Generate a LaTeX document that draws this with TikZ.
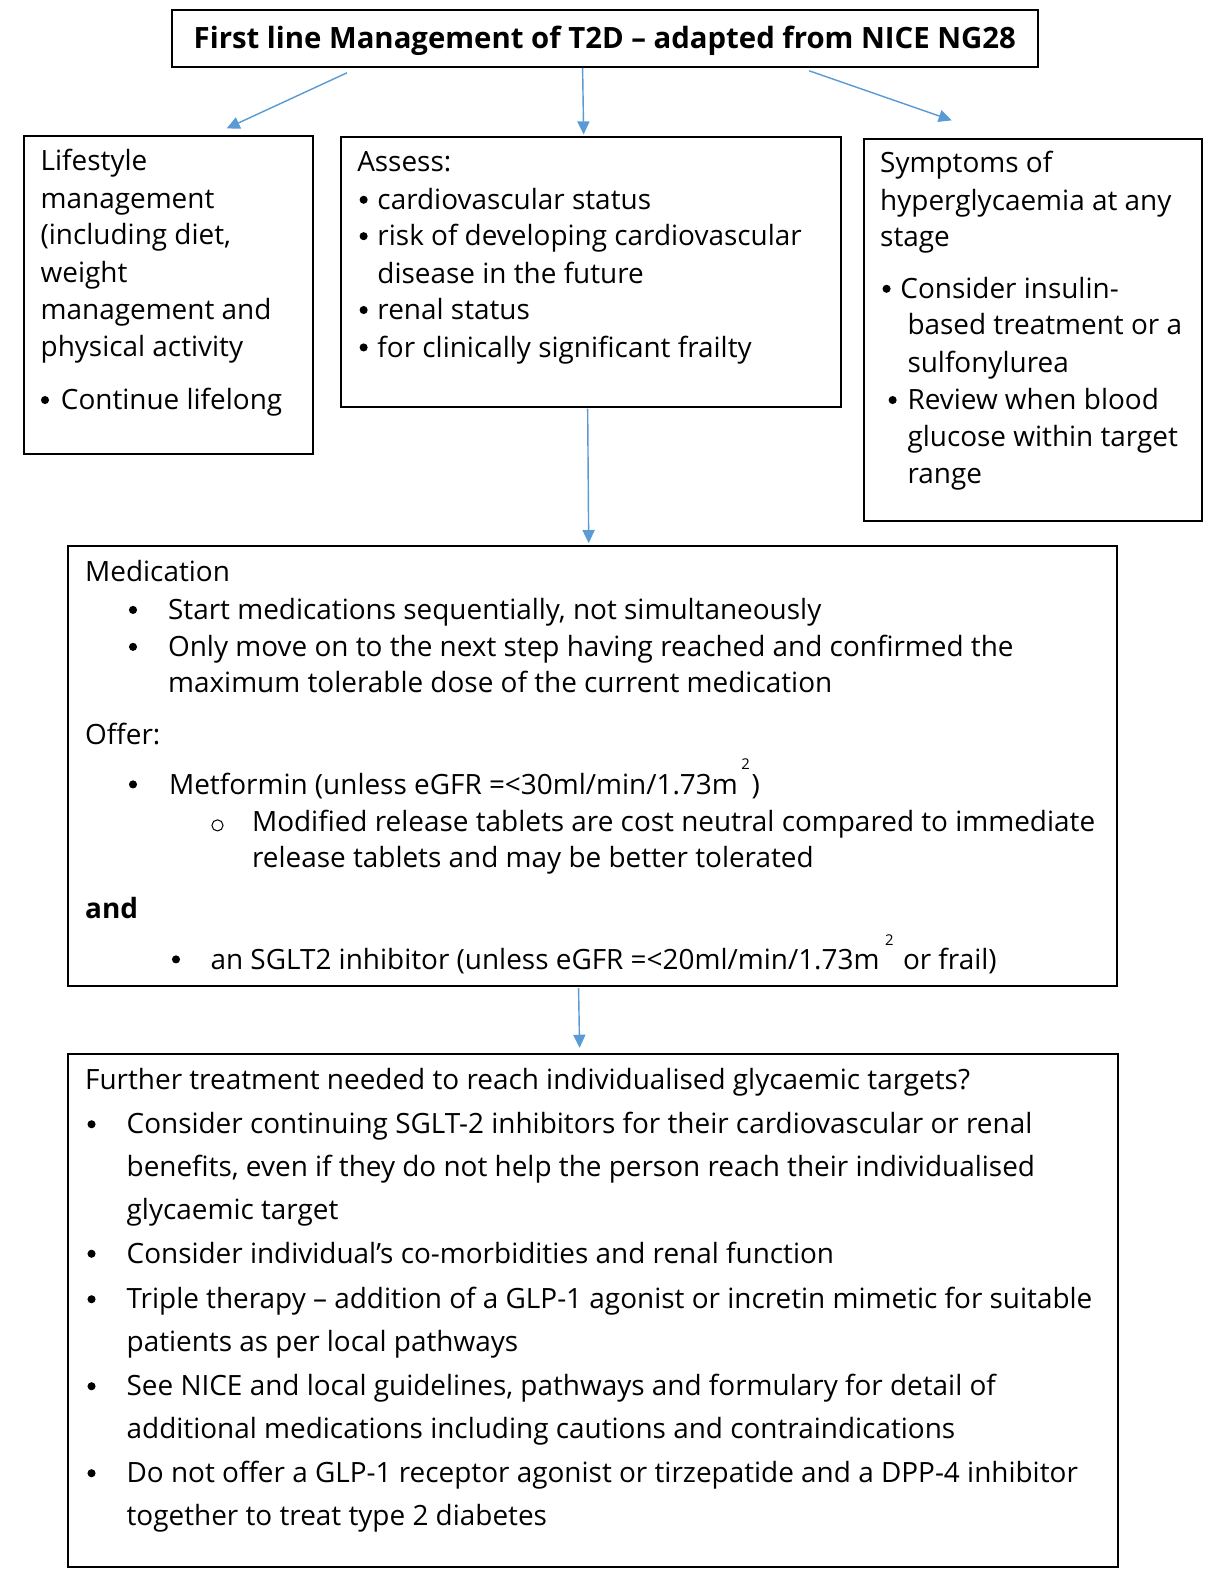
\documentclass[tikz,border=0pt]{standalone}
\usepackage{fontspec}
\setmainfont{Open Sans}
\usetikzlibrary{arrows.meta}
\definecolor{arrowblue}{HTML}{5B9BD5}
\newcommand\myBody{\fontsize{27.6}{32}\selectfont}
\newcommand\myTitle{\fontsize{29}{34}\selectfont\bfseries}
\newcommand\myline[4]{\node[txt] (#1) at (#2,#3) {#4};}
\newcommand\mybul[3]{\node[dot] (#1) at (#2,#3-9.5) {};}
\begin{document}
\begin{tikzpicture}[x=1pt,y=-1pt,
  txt/.style={anchor=base west, inner sep=0pt, font=\myBody},
  dot/.style={circle, fill=black, inner sep=0pt, minimum size=8pt},
  ring/.style={circle, draw=black, line width=1pt, inner sep=0pt, minimum width=11pt, minimum height=10pt, ellipse/.try},
  boxnode/.style={draw=black, line width=2pt, anchor=north west, inner sep=0pt},
  arr/.style={draw=arrowblue, line width=1.4pt, -{Triangle[length=13pt,width=12pt]}},
  supnode/.style={anchor=base west, inner sep=0pt, font=\fontsize{14.7}{18}\selectfont}]
\useasboundingbox[fill=white] (0,0) rectangle (1204,1568);

% title
\node[draw=black, line width=2pt, minimum width=856pt, minimum height=56pt, inner sep=0pt] (title) at (598,38) {};
\node[anchor=base, inner sep=0pt, font=\myTitle] (titletext) at (598,48) {First line Management of T2D -- adapted from NICE NG28};

% boxes
\node[boxnode, minimum width=285pt, minimum height=315pt] (life) at (23,133) {};
\node[boxnode, minimum width=494pt, minimum height=267pt] (assess) at (336,134) {};
\node[boxnode, minimum width=334pt, minimum height=378pt] (symp) at (853,136) {};
\node[boxnode, minimum width=1037pt, minimum height=435pt] (med) at (66,539) {};
\node[boxnode, minimum width=1038pt, minimum height=507pt] (further) at (66,1041) {};

% arrows
\coordinate (a1s) at (343,72); \coordinate (a1e) at (224,127);
\coordinate (a2s) at (576,67); \coordinate (a2e) at (577,133);
\coordinate (a3s) at (800,70); \coordinate (a3e) at (941,119);
\coordinate (a4s) at (581,404); \coordinate (a4e) at (582,537);
\coordinate (a5s) at (572,977); \coordinate (a5e) at (573,1036);
\draw[arr] (a1s) -- (a1e);
\draw[arr] (a2s) -- (a2e);
\draw[arr] (a3s) -- (a3e);
\draw[arr] (a4s) -- (a4e);
\draw[arr] (a5s) -- (a5e);

% lifestyle
\myline{ls1}{40}{169}{Lifestyle}
\myline{ls2}{40}{206}{management}
\myline{ls3}{40}{242}{(including diet,}
\myline{ls4}{40}{279}{weight}
\myline{ls5}{40}{316}{management and}
\myline{ls6}{40}{352}{physical activity}
\mybul{lsb}{44.5}{405}
\myline{ls7}{60}{405}{Continue lifelong}

% assess
\myline{as1}{353}{170}{Assess:}
\mybul{asb1}{359.5}{207}\myline{as2}{373}{207}{cardiovascular status}
\mybul{asb2}{359.5}{243}\myline{as3}{373}{243}{risk of developing cardiovascular}
\myline{as4}{373}{280}{disease in the future}
\mybul{asb3}{359.5}{316}\myline{as5}{373}{316}{renal status}
\mybul{asb4}{359.5}{353}\myline{as6}{373}{353}{for clinically significant frailty}

% symptoms
\myline{sy1}{870}{171}{Symptoms of}
\myline{sy2}{870}{208}{hyperglycaemia at any}
\myline{sy3}{870}{244}{stage}
\mybul{syb1}{876.5}{295}\myline{sy4}{890}{295}{Consider insulin-}
\myline{sy5}{897}{331}{based treatment or a}
\myline{sy6}{897}{368}{sulfonylurea}
\mybul{syb2}{882.5}{405}\myline{sy7}{897}{405}{Review when blood}
\myline{sy8}{897}{441}{glucose within target}
\myline{sy9}{897}{478}{range}

% medication
\myline{md1}{84}{575}{Medication}
\mybul{mdb1}{131.5}{612.5}\myline{md2}{166}{612.5}{Start medications sequentially, not simultaneously}
\mybul{mdb2}{131.5}{649}\myline{md3}{166}{649}{Only move on to the next step having reached and confirmed the}
\myline{md4}{166}{685}{maximum tolerable dose of the current medication}
\myline{md5}{84}{736}{Offer:}
\mybul{mdb3}{131.5}{785}\myline{md6}{167}{785}{Metformin (unless eGFR =<30ml/min/1.73m}
\node[supnode] (md6s) at ([xshift=3pt,yshift=24pt]md6.base east) {2};
\node[txt] (md6c) at ([xshift=1.5pt,yshift=-24pt]md6s.base east) {)};
\node[circle, draw=black, line width=1pt, inner sep=0pt, minimum size=11pt] (mdo) at (215,816) {};
\myline{md7}{249}{822.5}{Modified release tablets are cost neutral compared to immediate}
\myline{md8}{249}{858}{release tablets and may be better tolerated}
\node[txt, font=\myBody\bfseries] (md9) at (84,908) {and};
\mybul{mdb4}{174}{958}\myline{md10}{208}{958}{an SGLT2 inhibitor (unless eGFR =<20ml/min/1.73m}
\node[supnode] (md10s) at ([xshift=5pt,yshift=23.5pt]md10.base east) {2};
\node[txt] (md10c) at ([xshift=9pt,yshift=-23.5pt]md10s.base east) {or frail)};

% further
\myline{ft1}{84}{1077}{Further treatment needed to reach individualised glycaemic targets?}
\mybul{ftb1}{90.5}{1121}\myline{ft2}{125}{1121}{Consider continuing SGLT-2 inhibitors for their cardiovascular or renal}
\myline{ft3}{125}{1163}{benefits, even if they do not help the person reach their individualised}
\myline{ft4}{125}{1206}{glycaemic target}
\mybul{ftb2}{90.5}{1249}\myline{ft5}{125}{1249}{Consider individual’s co-morbidities and renal function}
\mybul{ftb3}{90.5}{1294}\myline{ft6}{125}{1294}{Triple therapy -- addition of a GLP-1 agonist or incretin mimetic for suitable}
\myline{ft7}{125}{1336}{patients as per local pathways}
\mybul{ftb4}{90.5}{1380}\myline{ft8}{125}{1380}{See NICE and local guidelines, pathways and formulary for detail of}
\myline{ft9}{125}{1422}{additional medications including cautions and contraindications}
\mybul{ftb5}{90.5}{1466}\myline{ft10}{125}{1466}{Do not offer a GLP-1 receptor agonist or tirzepatide and a DPP-4 inhibitor}
\myline{ft11}{125}{1508}{together to treat type 2 diabetes}
\end{tikzpicture}
\end{document}
